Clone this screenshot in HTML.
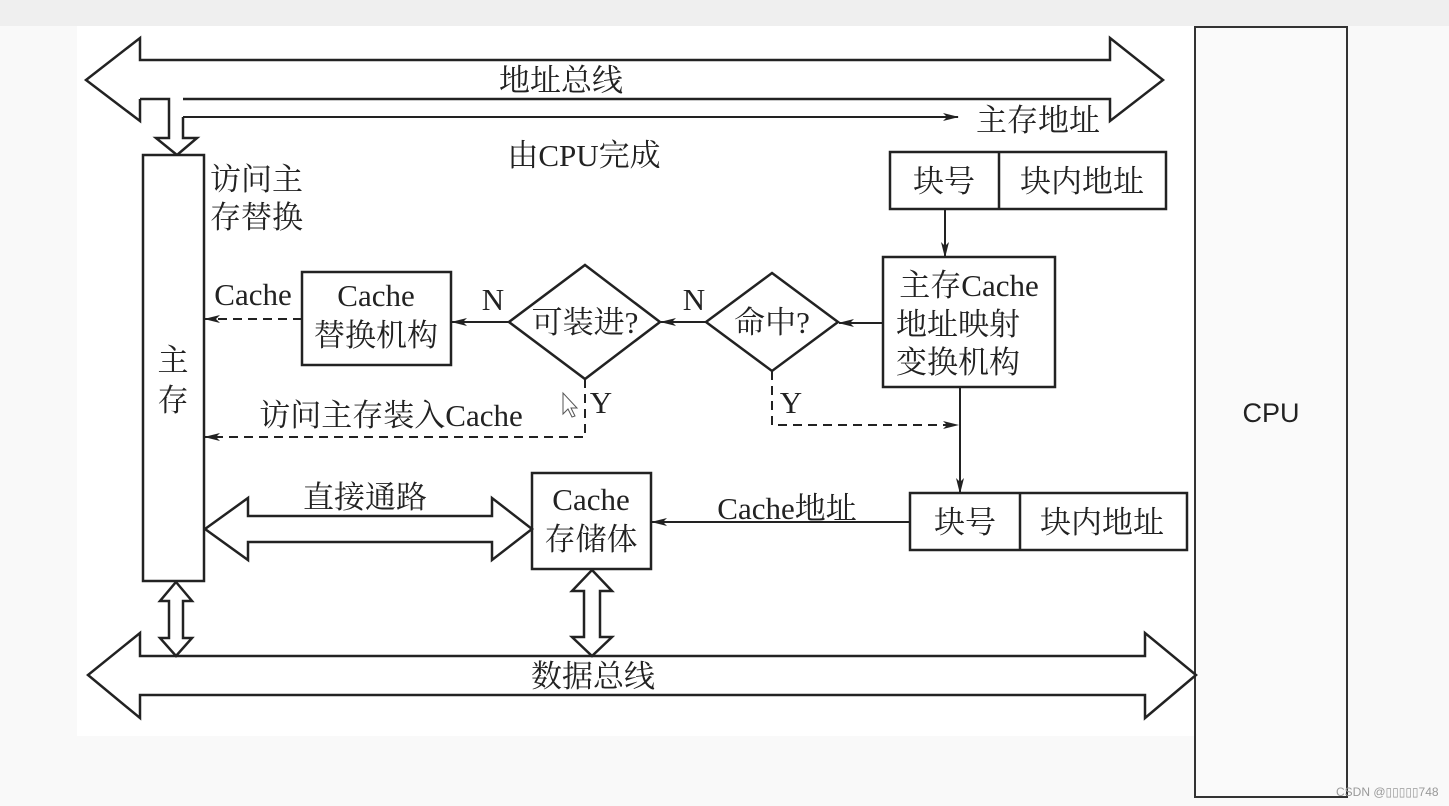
<!DOCTYPE html>
<html><head><meta charset="utf-8"><style>
html,body{margin:0;padding:0;background:#f8f8f8;}
svg{display:block;}
.t{font-family:"Liberation Serif","Noto Serif CJK SC",serif;font-size:31px;fill:#222;}
</style></head><body>
<svg width="1449" height="806" viewBox="0 0 1449 806" xmlns="http://www.w3.org/2000/svg">
<defs>
<marker id="a" markerWidth="16" markerHeight="10" refX="15" refY="5" orient="auto" markerUnits="userSpaceOnUse">
<path d="M0,1 L16,5 L0,9 L4,5 Z" fill="#222"/>
</marker>
</defs>
<rect x="0" y="0" width="1449" height="806" fill="#f9f9f9"/>
<rect x="0" y="0" width="1449" height="26" fill="#efefef"/>
<rect x="77" y="26" width="1118" height="710" fill="#fff"/>
<rect x="1195" y="27" width="152" height="770" fill="#fafafa" stroke="#333" stroke-width="2"/>
<text x="1271" y="422" font-family="Liberation Sans, sans-serif" font-size="27" fill="#222" text-anchor="middle">CPU</text>
<text x="1336" y="796" font-family="Liberation Sans, sans-serif" font-size="12" fill="#999">CSDN @▯▯▯▯▯748</text>

<g fill="none" stroke="#222" stroke-width="2.5">
<path d="M140,99 L140,121 L86,80 L140,38 L140,60 L1110,60 L1110,38 L1163,80 L1110,121 L1110,99 L183,99" />
<path d="M140,99 L169,99 L169,138 L156,138 L177,155 L197,138 L183,138 L183,117" fill="#fff"/>
<line x1="183" y1="117" x2="958" y2="117" marker-end="url(#a)" stroke-width="2"/>
<path d="M140,656 L140,633 L88,675 L140,718 L140,695 L1145,695 L1145,718 L1196,675 L1145,633 L1145,656 Z"/>
<rect x="143" y="155" width="61" height="426" fill="#fff"/>
<path d="M176,582 L192,601 L183,601 L183,638 L192,638 L176,656 L160,638 L169,638 L169,601 L160,601 Z" fill="#fff"/>
<path d="M592,570 L612,591 L600,591 L600,637 L612,637 L592,656 L572,637 L584,637 L584,591 L572,591 Z" fill="#fff"/>
<path d="M205,529 L248,498 L248,516 L492,516 L492,498 L532,529 L492,560 L492,542 L248,542 L248,560 Z" fill="#fff"/>
<rect x="890" y="152" width="276" height="57"/>
<line x1="999" y1="152" x2="999" y2="209"/>
<rect x="883" y="257" width="172" height="130"/>
<rect x="910" y="493" width="277" height="57"/>
<line x1="1020" y1="493" x2="1020" y2="550"/>
<rect x="532" y="473" width="119" height="96"/>
<rect x="302" y="272" width="149" height="93"/>
<path d="M772,273 L838,322 L772,371 L706,322 Z"/>
<path d="M585,265 L660,322 L585,379 L509,322 Z"/>
</g>
<g fill="none" stroke="#222" stroke-width="2">
<line x1="945" y1="209" x2="945" y2="257" marker-end="url(#a)"/>
<line x1="883" y1="323" x2="839" y2="323" marker-end="url(#a)"/>
<line x1="706" y1="322" x2="661" y2="322" marker-end="url(#a)"/>
<line x1="509" y1="322" x2="452" y2="322" marker-end="url(#a)"/>
<line x1="960" y1="387" x2="960" y2="493" marker-end="url(#a)"/>
<line x1="910" y1="522" x2="652" y2="522" marker-end="url(#a)"/>
<g stroke-dasharray="9,6">
<line x1="302" y1="319" x2="205" y2="319" marker-end="url(#a)"/>
<path d="M585,379 L585,437 L205,437" marker-end="url(#a)"/>
<path d="M772,371 L772,425 L958,425" marker-end="url(#a)"/>
</g>
</g>
<g class="t">
<text x="561" y="91" text-anchor="middle">地址总线</text>
<text x="1038" y="131" text-anchor="middle">主存地址</text>
<text x="584" y="166" text-anchor="middle">由CPU完成</text>
<text x="210" y="190">访问主</text>
<text x="210" y="228">存替换</text>
<text x="944" y="192" text-anchor="middle">块号</text>
<text x="1082" y="192" text-anchor="middle">块内地址</text>
<text x="969" y="296" text-anchor="middle">主存Cache</text>
<text x="896" y="335">地址映射</text>
<text x="896" y="373">变换机构</text>
<text x="772" y="333" text-anchor="middle">命中?</text>
<text x="585" y="333" text-anchor="middle">可装进?</text>
<text x="694" y="310" text-anchor="middle">N</text>
<text x="493" y="310" text-anchor="middle">N</text>
<text x="376" y="306" text-anchor="middle">Cache</text>
<text x="376" y="346" text-anchor="middle">替换机构</text>
<text x="253" y="305" text-anchor="middle">Cache</text>
<text x="601" y="413" text-anchor="middle">Y</text>
<text x="791" y="413" text-anchor="middle">Y</text>
<text x="391" y="426" text-anchor="middle">访问主存装入Cache</text>
<text x="173" y="371" text-anchor="middle">主</text>
<text x="173" y="411" text-anchor="middle">存</text>
<text x="365" y="508" text-anchor="middle">直接通路</text>
<text x="591" y="510" text-anchor="middle">Cache</text>
<text x="591" y="550" text-anchor="middle">存储体</text>
<text x="787" y="519" text-anchor="middle">Cache地址</text>
<text x="965" y="533" text-anchor="middle">块号</text>
<text x="1102" y="533" text-anchor="middle">块内地址</text>
<text x="593" y="687" text-anchor="middle">数据总线</text>
</g>
<path d="M563,393 L563,414 L568,409 L572,417 L575,416 L571,408 L577,408 Z" fill="#fff" stroke="#555" stroke-width="1"/>
</svg>
</body></html>
